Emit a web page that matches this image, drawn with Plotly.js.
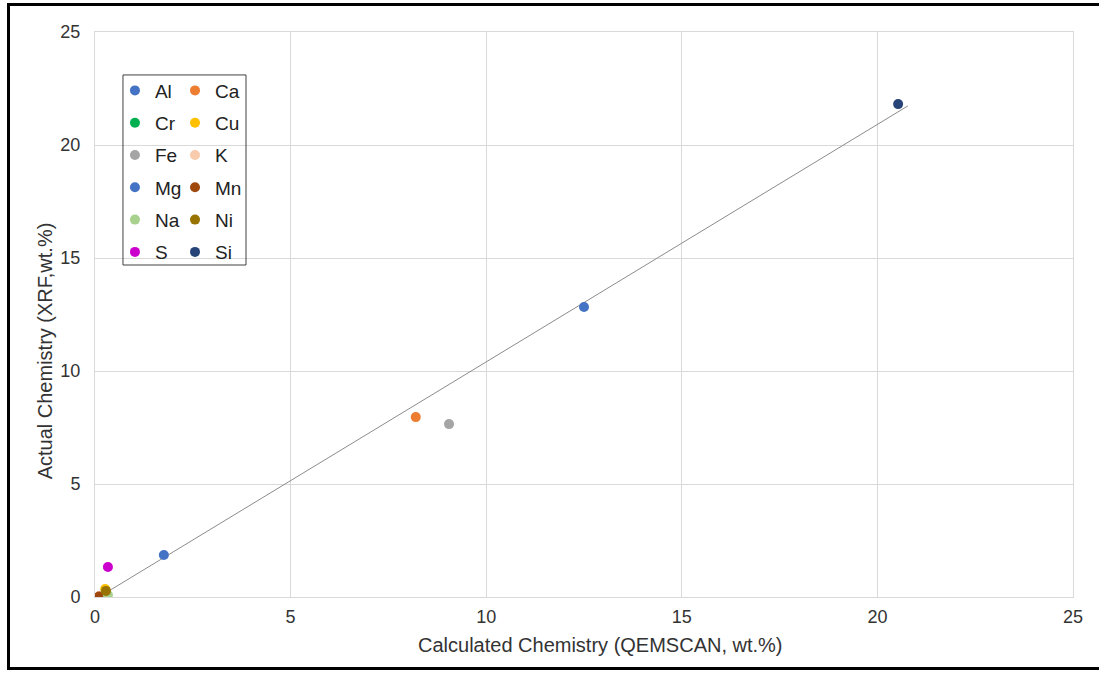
<!DOCTYPE html>
<html>
<head>
<meta charset="utf-8">
<script src="https://cdn.plot.ly/plotly-3.0.1.min.js"></script>
<style>
html,body{margin:0;padding:0;background:#fff;overflow:hidden;}
#frame{position:absolute;left:7px;top:3px;width:1200px;height:667px;border:3px solid #000;box-sizing:border-box;}
#chart{position:absolute;left:0;top:0;width:1099px;height:673px;}
</style>
</head>
<body>
<div id="frame"></div>
<div id="chart"></div>
<script>
const elements = ["Al","Ca","Cr","Cu","Fe","K","Mg","Mn","Na","Ni","S","Si"];
const calculated = [1.76, 8.2, 0.2, 0.26, 9.05, 0.12, 12.5, 0.1, 0.33, 0.28, 0.33, 20.53];
const actual     = [1.86, 7.96, 0.08, 0.35, 7.65, 0.05, 12.83, 0.02, 0.09, 0.27, 1.33, 21.81];
const colors = ["#4472C4","#ED7D31","#00B050","#FFC000","#A5A5A5","#F8CBAD","#4472C4","#9E480E","#A9D18E","#997300","#CC00CC","#264478"];
const trendX = [0.1, 20.78];
const trendY = [0.0, 21.73];
const tickVals = [0,5,10,15,20,25];

const font = "Liberation Sans, Arial, sans-serif";
const traces = [{
  x: trendX, y: trendY, mode: "lines", type: "scatter",
  line: {color: "#8c8c8c", width: 1}, showlegend: false, hoverinfo: "skip"
}];
elements.forEach((el, i) => {
  traces.push({
    x: [calculated[i]], y: [actual[i]], name: el, type: "scatter", mode: "markers",
    marker: {color: colors[i], size: 10},
    legend: (i % 2 === 0) ? "legend" : "legend2",
    legendgroup: el
  });
});

const legendCommon = {
  font: {family: font, size: 19, color: "#222"},
  bgcolor: "rgba(0,0,0,0)", borderwidth: 0,
  tracegroupgap: 4.6, itemwidth: 30,
  xref: "paper", yref: "paper", xanchor: "left", yanchor: "top"
};

const layout = {
  width: 1099, height: 673,
  margin: {l: 95, r: 26, t: 32, b: 76},
  paper_bgcolor: "rgba(0,0,0,0)", plot_bgcolor: "#fff",
  font: {family: font, size: 18, color: "#333"},
  xaxis: {
    range: [0, 25], tickvals: tickVals, showgrid: true, gridcolor: "#d9d9d9",
    zeroline: false, showline: true, linecolor: "#d9d9d9", mirror: true,
    ticks: "", tickfont: {size: 18, color: "#333"}, ticklabelstandoff: 3
  },
  yaxis: {
    range: [0, 25], tickvals: tickVals, showgrid: true, gridcolor: "#d9d9d9",
    zeroline: false, showline: true, linecolor: "#d9d9d9", mirror: true,
    ticks: "", tickfont: {size: 18, color: "#333"}, ticklabelstandoff: 10
  },
  legend: Object.assign({}, legendCommon, {x: 0.0204, y: 0.93}),
  legend2: Object.assign({}, legendCommon, {x: 0.0818, y: 0.93}),
  shapes: [{
    type: "rect", xref: "paper", yref: "paper",
    x0: 0.0286, x1: 0.1544, y0: 0.5876, y1: 0.924,
    line: {color: "#404040", width: 1}, fillcolor: "rgba(0,0,0,0)"
  }],
  annotations: [
    {text: "Calculated Chemistry (QEMSCAN, wt.%)", xref: "paper", yref: "paper",
     x: 0.517, y: -0.085, xanchor: "center", yanchor: "middle", showarrow: false,
     font: {family: font, size: 20, color: "#333"}},
    {text: "Actual Chemistry (XRF,wt.%)", xref: "paper", yref: "paper",
     x: -0.051, y: 0.435, xanchor: "center", yanchor: "middle", showarrow: false,
     textangle: -90, font: {family: font, size: 20, color: "#333"}}
  ],
  showlegend: true
};

Plotly.newPlot("chart", traces, layout, {displayModeBar: false, staticPlot: true});
</script>
</body>
</html>
